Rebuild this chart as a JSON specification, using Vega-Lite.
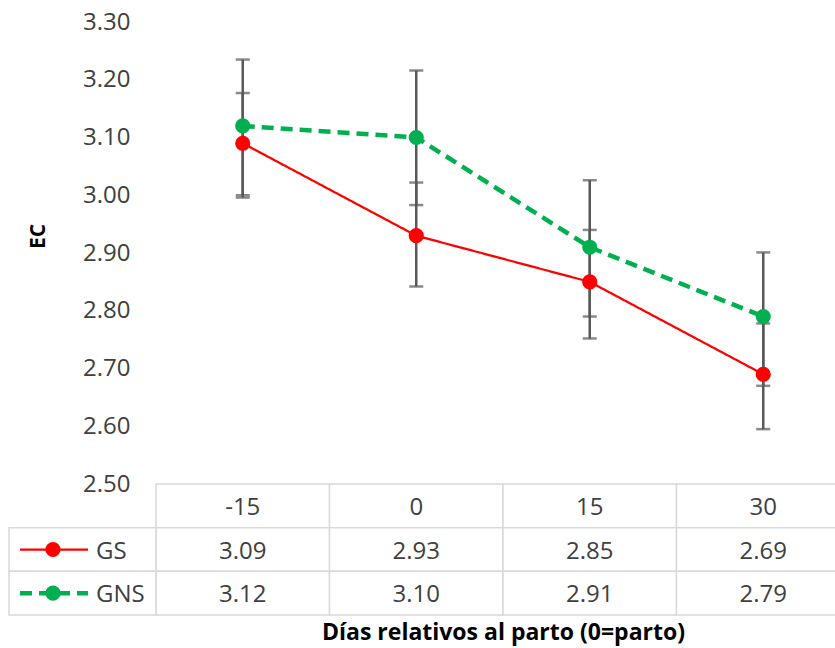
{
  "$schema": "https://vega.github.io/schema/vega-lite/v6.json",
  "width": 679,
  "height": 593,
  "autosize": {"type": "none"},
  "padding": {"left": 156, "top": 22, "right": 0, "bottom": 33},
  "background": "white",
  "config": {
    "view": {"stroke": null},
    "font": "Open Sans",
    "axis": {"labelFont": "Open Sans", "titleFont": "Open Sans"}
  },
  "datasets": {
    "ec": [
      {"day": "-15", "group": "GS", "ec": 3.09, "lo": 3.0, "hi": 3.177},
      {"day": "-15", "group": "GNS", "ec": 3.12, "lo": 2.996, "hi": 3.235},
      {"day": "0", "group": "GS", "ec": 2.93, "lo": 2.842, "hi": 3.022},
      {"day": "0", "group": "GNS", "ec": 3.10, "lo": 2.983, "hi": 3.216},
      {"day": "15", "group": "GS", "ec": 2.85, "lo": 2.752, "hi": 2.94},
      {"day": "15", "group": "GNS", "ec": 2.91, "lo": 2.79, "hi": 3.026},
      {"day": "30", "group": "GS", "ec": 2.69, "lo": 2.595, "hi": 2.778},
      {"day": "30", "group": "GNS", "ec": 2.79, "lo": 2.67, "hi": 2.901}
    ],
    "series": [{"group": "GS"}, {"group": "GNS"}]
  },
  "resolve": {"scale": {"x": "independent", "y": "independent"}},
  "layer": [
    {
      "data": {"name": "ec"},
      "encoding": {
        "x": {
          "field": "day", "type": "ordinal",
          "scale": {"type": "band", "domain": ["-15", "0", "15", "30"], "range": [0, 694], "paddingInner": 0, "paddingOuter": 0},
          "axis": {"title": "Días relativos al parto (0=parto)", "labels": false, "ticks": false, "domain": false, "grid": false, "titleFontSize": 23, "titleFontWeight": "bold", "titleColor": "#000000", "titlePadding": 6}
        }
      },
      "layer": [
        {
          "mark": {"type": "rule", "color": "#595959", "strokeWidth": 2.5},
          "encoding": {
            "y": {"field": "lo", "type": "quantitative", "title": "EC", "scale": {"domain": [2.5, 3.3], "range": [462, 0], "nice": false, "zero": false}},
            "y2": {"field": "hi"}
          }
        },
        {
          "mark": {"type": "tick", "orient": "horizontal", "size": 14, "thickness": 2.5, "color": "#595959"},
          "encoding": {
            "y": {"field": "lo", "type": "quantitative", "title": "EC", "scale": {"domain": [2.5, 3.3], "range": [462, 0], "nice": false, "zero": false}}
          }
        },
        {
          "mark": {"type": "tick", "orient": "horizontal", "size": 14, "thickness": 2.5, "color": "#595959"},
          "encoding": {
            "y": {"field": "hi", "type": "quantitative", "title": "EC", "scale": {"domain": [2.5, 3.3], "range": [462, 0], "nice": false, "zero": false}}
          }
        },
        {
          "mark": {"type": "line"},
          "encoding": {
            "y": {
              "field": "ec", "type": "quantitative", "title": "EC",
              "scale": {"domain": [2.5, 3.3], "range": [462, 0], "nice": false, "zero": false},
              "axis": {"values": [2.5, 2.6, 2.7, 2.8, 2.9, 3.0, 3.1, 3.2, 3.3], "format": ".2f", "grid": false, "domain": false, "ticks": false, "labelFontSize": 24, "labelColor": "#404040", "labelPadding": 26, "titleFontSize": 21, "titleFontWeight": "bold", "titleColor": "#000000", "titlePadding": 34, "titleY": 214}
            },
            "color": {"field": "group", "type": "nominal", "scale": {"domain": ["GS", "GNS"], "range": ["#ff0000", "#00b050"]}, "legend": null},
            "strokeDash": {"field": "group", "type": "nominal", "scale": {"domain": ["GS", "GNS"], "range": [[1, 0], [12, 7]]}, "legend": null},
            "strokeWidth": {"field": "group", "type": "nominal", "scale": {"domain": ["GS", "GNS"], "range": [2.25, 4.5]}, "legend": null}
          }
        },
        {
          "mark": {"type": "point", "shape": "circle", "filled": true, "opacity": 1, "size": 230},
          "encoding": {
            "y": {"field": "ec", "type": "quantitative", "title": "EC", "scale": {"domain": [2.5, 3.3], "range": [462, 0], "nice": false, "zero": false}},
            "color": {"field": "group", "type": "nominal", "legend": null}
          }
        }
      ]
    },
    {
      "data": {"name": "ec"},
      "encoding": {
        "x": {
          "field": "day", "type": "ordinal",
          "scale": {"type": "band", "domain": ["-15", "0", "15", "30"], "range": [0, 694], "paddingInner": 0, "paddingOuter": 0},
          "axis": null
        }
      },
      "layer": [
        {
          "transform": [{"filter": "datum.group === 'GS'"}],
          "mark": {"type": "rect", "fill": "white", "stroke": "#d9d9d9", "strokeWidth": 1.5},
          "encoding": {
            "y": {"datum": "h", "type": "ordinal", "scale": {"type": "band", "domain": ["h", "GS", "GNS"], "range": [462, 593], "paddingInner": 0, "paddingOuter": 0}, "axis": null}
          }
        },
        {
          "mark": {"type": "rect", "fill": "white", "stroke": "#d9d9d9", "strokeWidth": 1.5},
          "encoding": {
            "y": {"field": "group", "type": "ordinal", "scale": {"type": "band", "domain": ["h", "GS", "GNS"], "range": [462, 593], "paddingInner": 0, "paddingOuter": 0}, "axis": null}
          }
        },
        {
          "transform": [{"filter": "datum.group === 'GS'"}],
          "mark": {"type": "text", "fontSize": 24, "color": "#404040", "baseline": "middle", "dy": 2, "font": "Open Sans"},
          "encoding": {
            "y": {"datum": "h", "type": "ordinal", "axis": null},
            "text": {"field": "day", "type": "nominal"}
          }
        },
        {
          "mark": {"type": "text", "fontSize": 24, "color": "#404040", "baseline": "middle", "dy": 2, "font": "Open Sans"},
          "encoding": {
            "y": {"field": "group", "type": "ordinal", "axis": null},
            "text": {"field": "ec", "type": "quantitative", "format": ".2f"}
          }
        }
      ]
    },
    {
      "data": {"name": "series"},
      "encoding": {
        "y": {"field": "group", "type": "ordinal", "scale": {"type": "band", "domain": ["h", "GS", "GNS"], "range": [462, 593], "paddingInner": 0, "paddingOuter": 0}, "axis": null}
      },
      "layer": [
        {
          "mark": {"type": "rect", "fill": "white", "stroke": "#d9d9d9", "strokeWidth": 1.5},
          "encoding": {
            "x": {"datum": 0, "type": "quantitative", "scale": {"domain": [0, 147], "range": [-147, 0], "nice": false, "zero": false}, "axis": null},
            "x2": {"datum": 147}
          }
        },
        {
          "mark": {"type": "rule"},
          "encoding": {
            "x": {"datum": 11, "type": "quantitative", "axis": null},
            "x2": {"datum": 79},
            "color": {"field": "group", "type": "nominal", "legend": null},
            "strokeDash": {"field": "group", "type": "nominal", "legend": null},
            "strokeWidth": {"field": "group", "type": "nominal", "legend": null}
          }
        },
        {
          "mark": {"type": "point", "shape": "circle", "filled": true, "opacity": 1, "size": 230},
          "encoding": {
            "x": {"datum": 44, "type": "quantitative", "axis": null},
            "color": {"field": "group", "type": "nominal", "legend": null}
          }
        },
        {
          "mark": {"type": "text", "fontSize": 24, "color": "#404040", "baseline": "middle", "align": "left", "dy": 2, "font": "Open Sans"},
          "encoding": {
            "x": {"datum": 87, "type": "quantitative", "axis": null},
            "text": {"field": "group", "type": "nominal"}
          }
        }
      ]
    }
  ]
}
